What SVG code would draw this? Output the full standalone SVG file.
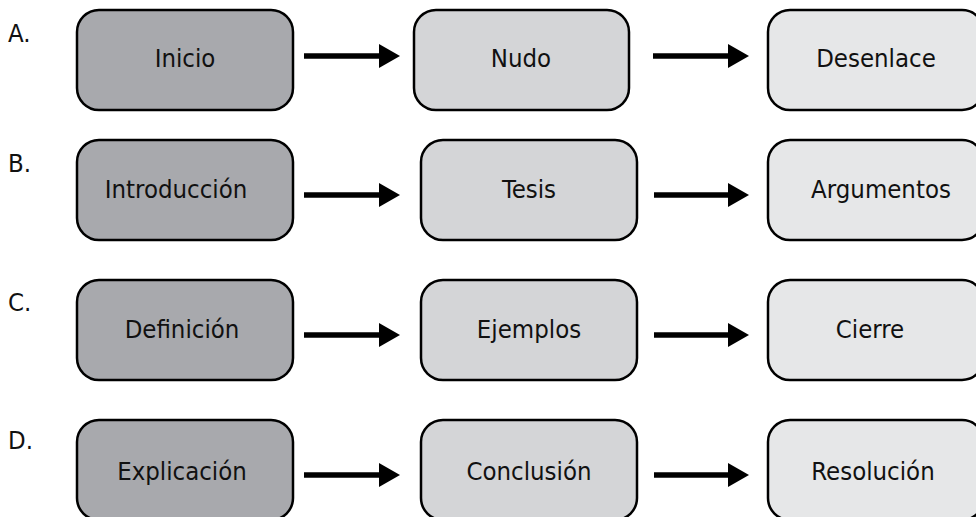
<svg xmlns="http://www.w3.org/2000/svg" width="976" height="517" viewBox="0 0 976 517">
<style>
text{font-family:"DejaVu Sans Condensed","Liberation Sans",sans-serif;font-size:25.5px;fill:#111;}
.t{text-anchor:middle;}
.box{stroke:#000;stroke-width:2.5;}
.c1{fill:#a8a9ad;}
.c2{fill:#d4d5d7;}
.c3{fill:#e6e7e8;}
.arr{stroke:#000;stroke-width:5.5;fill:none;}
</style>
<defs>
<marker id="ah" markerUnits="userSpaceOnUse" markerWidth="22" markerHeight="26" refX="1" refY="12" orient="auto">
<path d="M0,0 L21,12 L0,24 Z" fill="#000"/>
</marker>
</defs>
<rect width="976" height="517" fill="#fff"/>
<g id="labels">
<text x="8" y="42">A.</text>
<text x="8" y="172">B.</text>
<text x="8" y="311">C.</text>
<text x="8" y="449">D.</text>
</g>
<g id="connectors">
<line class="arr" x1="304" y1="56" x2="380" y2="56" marker-end="url(#ah)"/>
<line class="arr" x1="653" y1="56" x2="729" y2="56" marker-end="url(#ah)"/>
<line class="arr" x1="304" y1="195" x2="380" y2="195" marker-end="url(#ah)"/>
<line class="arr" x1="654" y1="195" x2="729" y2="195" marker-end="url(#ah)"/>
<line class="arr" x1="304" y1="335" x2="380" y2="335" marker-end="url(#ah)"/>
<line class="arr" x1="654" y1="335" x2="729" y2="335" marker-end="url(#ah)"/>
<line class="arr" x1="304" y1="475" x2="380" y2="475" marker-end="url(#ah)"/>
<line class="arr" x1="654" y1="475" x2="729" y2="475" marker-end="url(#ah)"/>
</g>
<g id="inicio"><rect class="box c1" x="77" y="10" width="216" height="100" rx="22"/><text class="t" x="185" y="67">Inicio</text></g>
<g id="nudo"><rect class="box c2" x="414" y="10" width="215" height="100" rx="22"/><text class="t" x="521" y="67">Nudo</text></g>
<g id="desenlace"><rect class="box c3" x="768" y="10" width="216" height="100" rx="22"/><text class="t" x="876" y="67">Desenlace</text></g>
<g id="introduccion"><rect class="box c1" x="77" y="140" width="216" height="100" rx="22"/><text class="t" x="176" y="198">Introducción</text></g>
<g id="tesis"><rect class="box c2" x="421" y="140" width="216" height="100" rx="22"/><text class="t" x="529" y="198">Tesis</text></g>
<g id="argumentos"><rect class="box c3" x="768" y="140" width="216" height="100" rx="22"/><text class="t" x="881" y="198">Argumentos</text></g>
<g id="definicion"><rect class="box c1" x="77" y="280" width="216" height="100" rx="22"/><text class="t" x="182" y="338">Definición</text></g>
<g id="ejemplos"><rect class="box c2" x="421" y="280" width="216" height="100" rx="22"/><text class="t" x="529" y="338">Ejemplos</text></g>
<g id="cierre"><rect class="box c3" x="768" y="280" width="216" height="100" rx="22"/><text class="t" x="870" y="338">Cierre</text></g>
<g id="explicacion"><rect class="box c1" x="77" y="420" width="216" height="100" rx="22"/><text class="t" x="182" y="480">Explicación</text></g>
<g id="conclusion"><rect class="box c2" x="421" y="420" width="216" height="100" rx="22"/><text class="t" x="529" y="480">Conclusión</text></g>
<g id="resolucion"><rect class="box c3" x="768" y="420" width="216" height="100" rx="22"/><text class="t" x="873" y="480">Resolución</text></g>
</svg>
